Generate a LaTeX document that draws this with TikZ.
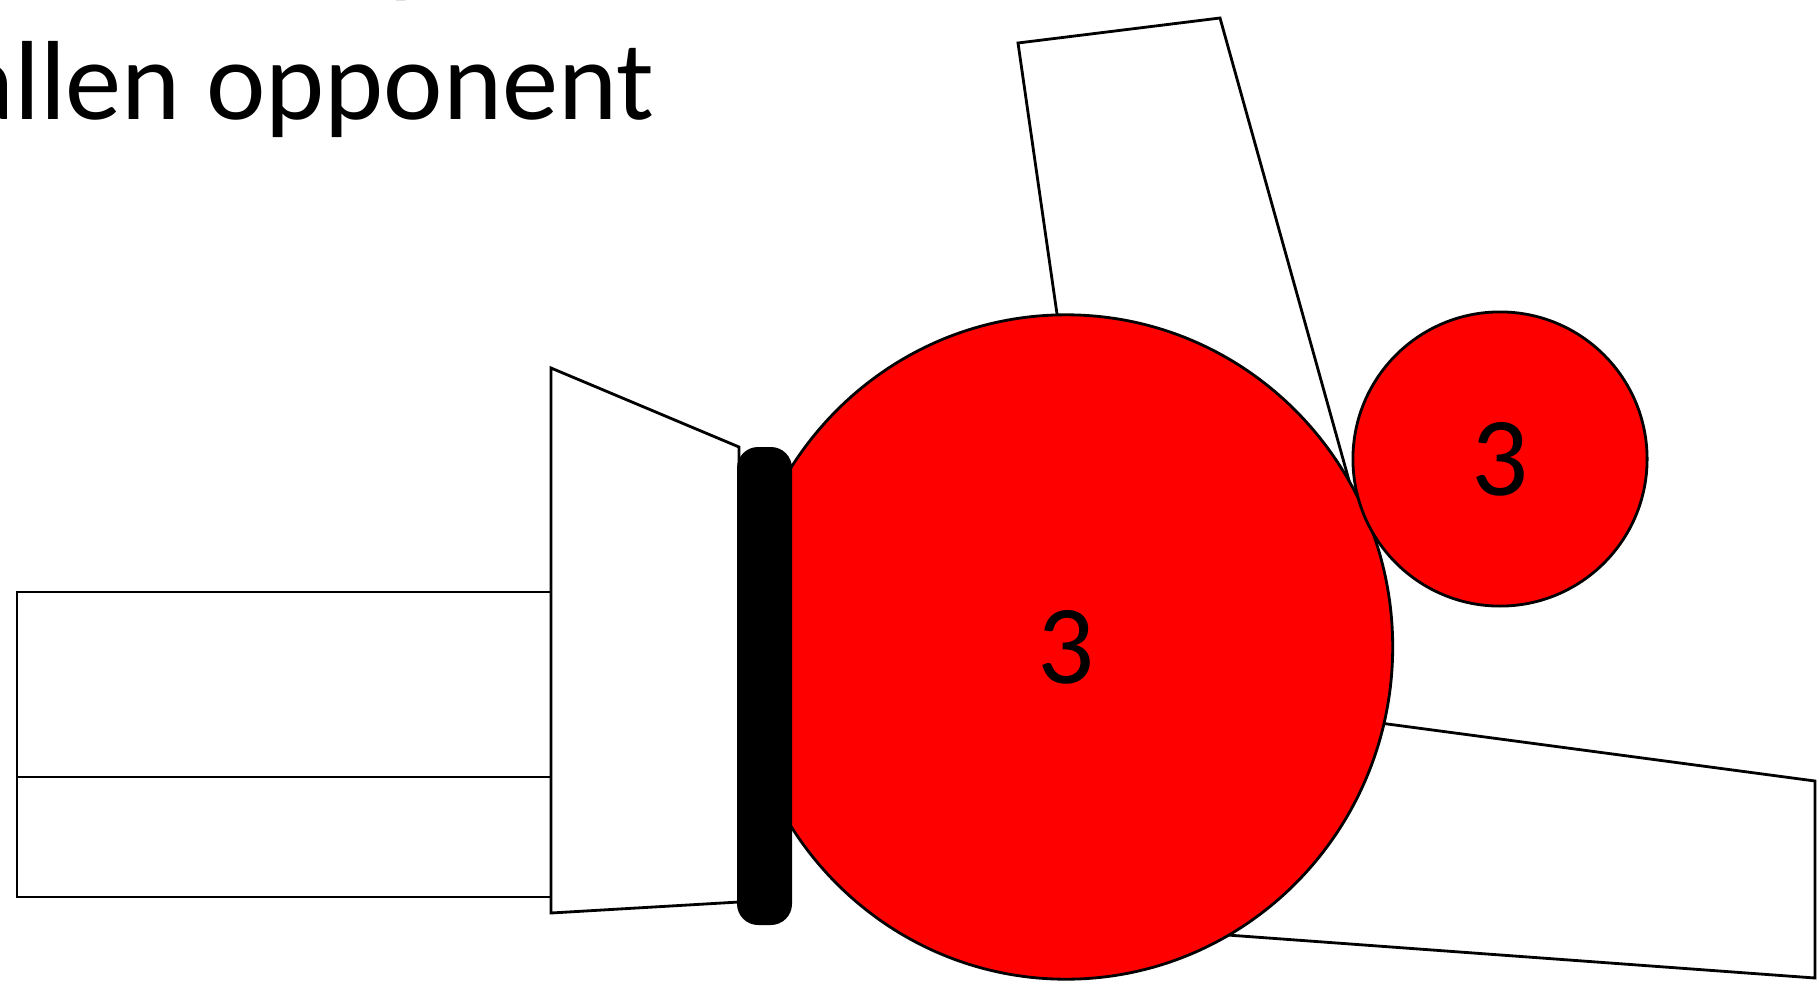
\documentclass[tikz,border=0pt]{standalone}
\usepackage{fontspec}
\setmainfont{Carlito}
\usetikzlibrary{shapes.geometric}

\tikzset{
    part/.style={draw=black, fill=white, line width=0.8pt, line join=miter},
    disc/.style={ellipse, draw=black, fill=red, line width=0.8pt, inner sep=0pt, outer sep=0pt,
                 font=\fontsize{32}{38}\selectfont},
    caption/.style={inner sep=0pt, font=\fontsize{32}{38}\selectfont}
}

\begin{document}
\begin{tikzpicture}[x=0.01cm, y=-0.01cm]
    \useasboundingbox (0,0) rectangle (1819,985);

    % text, cut off at the page edge
    \node[caption, anchor=base west] (above) at (388,-17) {p};
    \node[caption, anchor=base east] (caption) at (655,120) {allen opponent};

    % legs
    \draw[part] (17,592) rectangle (551,777);
    \draw[part] (17,777) rectangle (551,897);
    \draw[part] (551,368) -- (739,447) -- (739,902) -- (551,913) -- cycle;

    % arms
    \draw[part] (1018,43) -- (1220,18) -- (1360,520) -- (1078,460) -- cycle;
    \draw[part] (1200,699) -- (1815,781) -- (1815,978) -- (1200,933) -- cycle;

    % body and head
    \node[disc, minimum width=6.53cm, minimum height=6.64cm] (body) at (1066,647) {3};
    \fill[black, rounded corners=6pt] (737,447) rectangle (792,925);
    \node[disc, minimum width=2.94cm, minimum height=2.94cm] (head) at (1500,459) {3};
\end{tikzpicture}
\end{document}
